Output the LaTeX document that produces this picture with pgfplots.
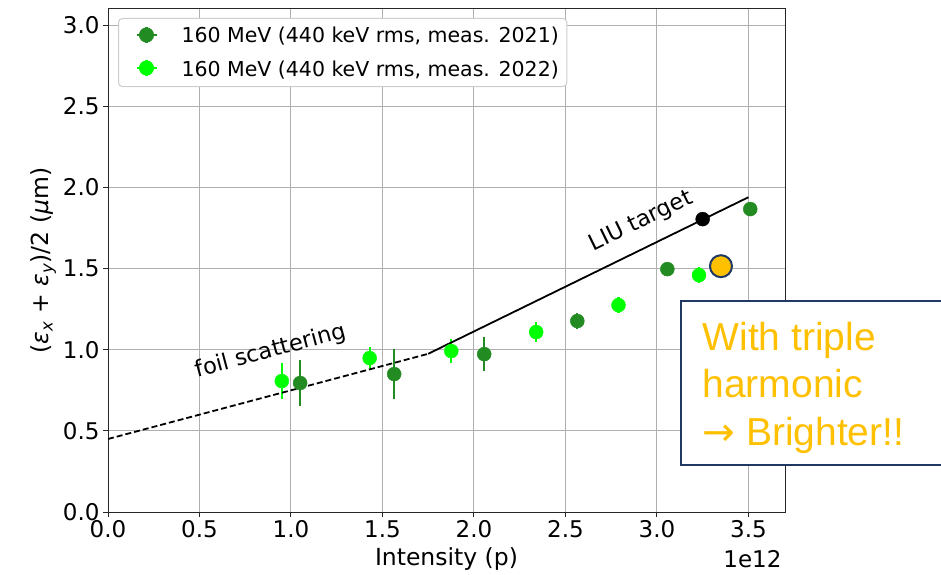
\documentclass[border=0pt]{standalone}
\usepackage{fontspec}
\setmainfont{DejaVu Sans}
\newfontfamily\arialf{Liberation Sans}
\newfontfamily\dejavu{DejaVu Sans}
\usepackage{pgfplots}
\usepackage{pgfplotstable}
\pgfplotsset{compat=1.18}
\definecolor{dkgreen}{HTML}{228B22}
\definecolor{ltgreen}{HTML}{00FF00}
\definecolor{navyb}{HTML}{1F3864}
\definecolor{goldc}{HTML}{FFC000}
\definecolor{gridgray}{HTML}{B0B0B0}

\pgfplotstableread{
x y ey
1.05 0.795 0.14
1.564 0.85 0.155
2.056 0.973 0.105
2.565 1.177 0.05
3.057 1.497 0.02
3.51 1.867 0.02
}\dkdata
\pgfplotstableread{
x y ey
0.95 0.807 0.11
1.43 0.949 0.07
1.876 0.992 0.074
2.34 1.109 0.06
2.79 1.275 0.05
3.23 1.46 0.05
}\ltdata

\begin{document}
\begin{tikzpicture}[x=1pt,y=1pt]
\begin{axis}[
  at={(108pt,62pt)}, anchor=south west,
  scale only axis, width=677pt, height=503pt,
  xmin=0, xmax=3.7, ymin=0, ymax=3.1,
  xtick={0,0.5,1,1.5,2,2.5,3,3.5},
  ytick={0,0.5,1,1.5,2,2.5,3},
  /pgf/number format/.cd, fixed, fixed zerofill, precision=1, assume math mode=true,
  /pgfplots/.cd,
  tick label style={font=\fontsize{23}{27}\selectfont},
  label style={font=\fontsize{23.5}{28}\selectfont},
  xlabel style={yshift=-3pt},
  tick pos=left, tick align=outside, major tick length=5pt,
  every tick/.style={black!85, line width=1pt},
  axis line style={black!85, line width=1pt},
  grid=major, grid style={gridgray, line width=1pt},
  xlabel={Intensity (p)},
  ylabel={(\textit{ε}\textsubscript{\textit{x}} + \textit{ε}\textsubscript{\textit{y}})/2 (\textit{μ}m)},
  legend style={at={(0,1)}, anchor=north west, xshift=10pt, yshift=-9pt,
    draw=gray!40, line width=1pt, rounded corners=4pt, fill=white,
    font=\fontsize{20.5}{24}\selectfont, inner ysep=1pt, inner xsep=6pt,
    nodes={inner sep=2pt, text height=21.5pt, text depth=7.5pt}},
  legend cell align=left,
  clip=false,
]
\addlegendimage{legend image code/.code={
    \path[draw=none] (0pt,-1pt) rectangle (55pt,1pt);
    \draw[dkgreen,line width=2.2pt] (22pt,-7pt) -- (22pt,9pt);
    \draw[dkgreen,line width=2.2pt] (12pt,1pt) -- (32pt,1pt);
    \fill[dkgreen] (22pt,1pt) circle (7pt);}}
\addlegendentry{160 MeV (440 keV rms, meas. 2021)}
\addlegendimage{legend image code/.code={
    \path[draw=none] (0pt,-1pt) rectangle (55pt,1pt);
    \draw[ltgreen,line width=2.2pt] (22pt,-7pt) -- (22pt,9pt);
    \draw[ltgreen,line width=2.2pt] (12pt,1pt) -- (32pt,1pt);
    \fill[ltgreen] (22pt,1pt) circle (7pt);}}
\addlegendentry{160 MeV (440 keV rms, meas. 2022)}
\addplot[only marks, mark=*, mark size=7pt, color=dkgreen, forget plot,
  mark options={draw=dkgreen, fill=dkgreen},
  error bars/.cd, y dir=both, y explicit, error mark=none,
  error bar style={line width=2.2pt, dkgreen}]
  table[x=x, y=y, y error=ey]{\dkdata};
\addplot[only marks, mark=*, mark size=7pt, color=ltgreen, forget plot,
  mark options={draw=ltgreen, fill=ltgreen},
  error bars/.cd, y dir=both, y explicit, error mark=none,
  error bar style={line width=2.2pt, ltgreen}]
  table[x=x, y=y, y error=ey]{\ltdata};
\addplot[black, line width=1.8pt, dash pattern=on 6pt off 3pt, forget plot]
  coordinates {(0,0.45) (1.75,0.975)};
\addplot[black, line width=1.8pt, forget plot]
  coordinates {(1.75,0.975) (3.5,1.94)};
\addplot[only marks, mark=*, mark size=7pt, black, forget plot]
  coordinates {(3.25,1.805)};
\addplot[only marks, mark=*, mark size=11pt, forget plot,
  mark options={fill=goldc, draw=navyb, line width=2pt}]
  coordinates {(3.35,1.515)};
\node[rotate=15, font=\fontsize{22.5}{26}\selectfont] at (axis cs:0.89,0.99) {foil scattering};
\node[rotate=26, font=\fontsize{22.5}{26}\selectfont] at (axis cs:2.915,1.79) {LIU target};
\end{axis}
\node[anchor=base east, font=\fontsize{23}{27}\selectfont] at (785,7) {1e12};
\draw[navyb, line width=2pt, fill=white] (681,273) rectangle (970,109);
\node[anchor=base west, goldc, font=\arialf\fontsize{39}{47}\selectfont] at (699,224) {With triple};
\node[anchor=base west, goldc, font=\arialf\fontsize{39}{47}\selectfont] at (699,177) {harmonic};
\node[anchor=base west, goldc, font=\arialf\fontsize{39}{47}\selectfont] at (699,129) {{\dejavu →} Brighter!!};
\pgfresetboundingbox
\useasboundingbox (0,0) rectangle (941,574);
\end{tikzpicture}
\end{document}
